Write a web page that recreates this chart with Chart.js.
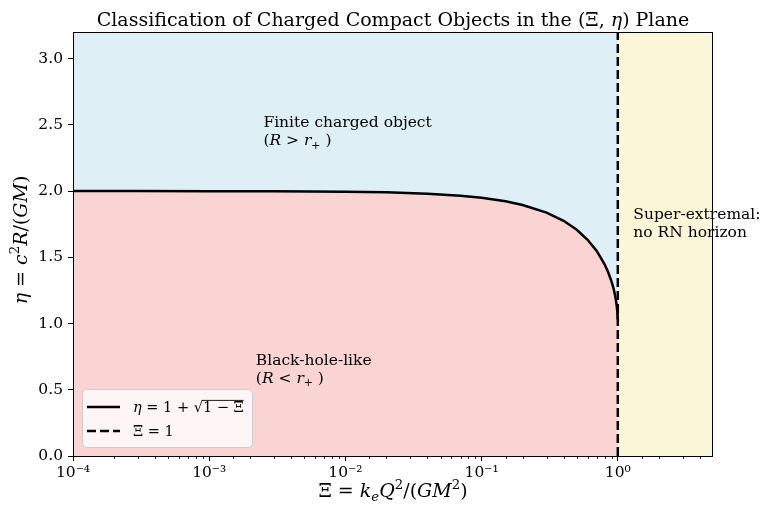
<!DOCTYPE html>
<html><head><meta charset="utf-8">
<script src="https://cdn.jsdelivr.net/npm/chart.js@4.4.0/dist/chart.umd.min.js"></script>
<style>html,body{margin:0;padding:0;background:#fff;}#wrap{width:766px;height:508px;}</style>
</head><body><div id="wrap"><canvas id="c" width="766" height="508"></canvas></div>
<script>
// ---- data ----
const xiValues  = [1e-4, 3e-4, 1e-3, 3e-3, 0.01, 0.02, 0.04, 0.07, 0.1, 0.15, 0.2, 0.3, 0.4, 0.5, 0.6, 0.7, 0.8, 0.85, 0.9, 0.93, 0.95, 0.97, 0.98, 0.99, 0.995, 0.998, 0.999];
const etaValues = [2.0, 2.0, 1.999, 1.998, 1.995, 1.990, 1.980, 1.964, 1.949, 1.922, 1.894, 1.837, 1.775, 1.707, 1.632, 1.548, 1.447, 1.387, 1.316, 1.265, 1.224, 1.173, 1.141, 1.100, 1.071, 1.045, 1.032];
const boundaryXi = [1, 1];
const boundaryEta = [0, 3.2];
const finiteRegionXi = [1e-4, 1];
const superRegionXi = [1, 5];
const regionTopEta = 3.2;
const xRange = [1e-4, 5];
const yRange = [0, 3.2];
const xTickDecades = [1e-4, 1e-3, 1e-2, 1e-1, 1];
const xTickLabels = ['10⁻⁴', '10⁻³', '10⁻²', '10⁻¹', '10⁰'];
const yTickStep = 0.5;
const seriesLabels = ['η = 1 + √1 − Ξ', 'Ξ = 1'];

const FONT = '"DejaVu Serif", "Liberation Serif", serif';
const RED = '#fad3d3', BLUE = '#deeff5', YELLOW = '#faf6d7';
const GRID = 'rgba(176,176,176,0.35)';

function isDecade(v){ const l = Math.log10(v); return Math.abs(l - Math.round(l)) < 1e-9; }

function segFont(s, size){
  const sz = (s.sub || s.sup) ? size*0.7 : size;
  return (s.it ? 'italic ' : '') + sz + 'px ' + FONT;
}
function drawRich(ctx, segs, x, y, size, align){
  let total = 0; const ws = [];
  segs.forEach(s => { ctx.font = segFont(s, size); const w = ctx.measureText(s.t).width; ws.push(w); total += w; });
  let cx = align === 'center' ? x - total/2 : (align === 'right' ? x - total : x);
  ctx.textAlign = 'left'; ctx.textBaseline = 'alphabetic';
  segs.forEach((s, i) => {
    ctx.font = segFont(s, size);
    const dy = s.sub ? size*0.22 : (s.sup ? -size*0.4 : 0);
    ctx.fillText(s.t, cx, y + dy);
    if (s.over){
      ctx.save(); ctx.lineWidth = 0.9; ctx.strokeStyle = ctx.fillStyle;
      ctx.beginPath(); ctx.moveTo(cx - 1, y - size*0.80); ctx.lineTo(cx + ws[i], y - size*0.80); ctx.stroke(); ctx.restore();
    }
    cx += ws[i];
  });
  return total;
}

const decor = {
  id: 'decor',
  afterDraw(chart){
    const ctx = chart.ctx, a = chart.chartArea;
    const xs = chart.scales.x, ys = chart.scales.y;
    ctx.save();
    // spines
    ctx.strokeStyle = '#000'; ctx.lineWidth = 1;
    ctx.strokeRect(a.left + 0.5, a.top + 0.5, a.right - a.left - 1, a.bottom - a.top);
    // minor ticks on log axis
    ctx.lineWidth = 0.8;
    xs.ticks.forEach(t => {
      if (isDecade(t.value)) return;
      const px = Math.round(xs.getPixelForValue(t.value)) + 0.5;
      if (px < a.left || px > a.right) return;
      ctx.beginPath(); ctx.moveTo(px, a.bottom); ctx.lineTo(px, a.bottom + 3); ctx.stroke();
    });
    ctx.fillStyle = '#000';
    // title
    drawRich(ctx, [{t:'Classification of Charged Compact Objects in the (Ξ, '},{t:'η', it:true},{t:') Plane'}],
      (a.left + a.right)/2, 26, 19, 'center');
    // x axis title
    drawRich(ctx, [{t:'Ξ = '},{t:'k', it:true},{t:'e', it:true, sub:true},{t:'Q', it:true},{t:'2', sup:true},{t:'/('},{t:'GM', it:true},{t:'2', sup:true},{t:')'}],
      (a.left + a.right)/2, 497, 19, 'center');
    // y axis title
    ctx.save(); ctx.translate(27, (a.top + a.bottom)/2 - 4); ctx.rotate(-Math.PI/2);
    drawRich(ctx, [{t:'η', it:true},{t:' = '},{t:'c', it:true},{t:'2', sup:true},{t:'R', it:true},{t:'/('},{t:'GM', it:true},{t:')'}], 0, 0, 19, 'center');
    ctx.restore();
    // annotations (anchored in data coordinates)
    const AS = 15.5, LS = 18;
    let px = xs.getPixelForValue(2.5e-3), py = ys.getPixelForValue(2.48);
    drawRich(ctx, [{t:'Finite charged object'}], px, py, AS, 'left');
    drawRich(ctx, [{t:'('},{t:'R', it:true},{t:' > '},{t:'r', it:true},{t:'+', sub:true},{t:' )'}], px, py + LS, AS, 'left');
    px = xs.getPixelForValue(2.2e-3); py = ys.getPixelForValue(0.687);
    drawRich(ctx, [{t:'Black-hole-like'}], px, py, AS, 'left');
    drawRich(ctx, [{t:'('},{t:'R', it:true},{t:' < '},{t:'r', it:true},{t:'+', sub:true},{t:' )'}], px, py + LS, AS, 'left');
    px = xs.getPixelForValue(1.3); py = ys.getPixelForValue(1.786);
    drawRich(ctx, [{t:'Super-extremal:'}], px, py, AS, 'left');
    drawRich(ctx, [{t:'no RN horizon'}], px, py + LS, AS, 'left');
    // legend
    const lx = a.left + 9, ly = a.bottom - 67, lw = 170, lh = 58;
    ctx.beginPath();
    ctx.roundRect(lx + 0.5, ly + 0.5, lw, lh, 4);
    ctx.fillStyle = 'rgba(255,255,255,0.8)'; ctx.fill();
    ctx.strokeStyle = '#cccccc'; ctx.lineWidth = 1; ctx.stroke();
    const ds = chart.data.datasets;
    ctx.strokeStyle = '#000'; ctx.lineWidth = 2.5;
    ctx.beginPath(); ctx.moveTo(lx + 5, ly + 18); ctx.lineTo(lx + 38, ly + 18); ctx.stroke();
    ctx.setLineDash(ds[1].borderDash);
    ctx.beginPath(); ctx.moveTo(lx + 5, ly + 42); ctx.lineTo(lx + 38, ly + 42); ctx.stroke();
    ctx.setLineDash([]);
    ctx.fillStyle = '#000';
    drawRich(ctx, [{t:'η', it:true},{t:' = 1 + √'},{t:'1 − Ξ', over:true}], lx + 51, ly + 23, 14.5, 'left');
    drawRich(ctx, [{t:'Ξ = 1'}], lx + 51, ly + 47, 14.5, 'left');
    ctx.restore();
  }
};

const curve = xiValues.map((x, i) => ({x, y: etaValues[i]}));
new Chart(document.getElementById('c'), {
  type: 'line',
  data: {
    datasets: [
      { label: seriesLabels[0], data: curve, borderColor: '#000', borderWidth: 2.5, pointRadius: 0, fill: 'origin', backgroundColor: RED, tension: 0, order: 0 },
      { label: seriesLabels[1], data: boundaryXi.map((x, i) => ({x, y: boundaryEta[i]})), borderColor: '#000', borderWidth: 2.5, borderDash: [9, 4], pointRadius: 0, fill: false, order: -1 },
      { label: 'finite', data: finiteRegionXi.map(x => ({x, y: regionTopEta})), borderWidth: 0, borderColor: 'rgba(0,0,0,0)', pointRadius: 0, fill: 'origin', backgroundColor: BLUE, order: 1 },
      { label: 'super', data: superRegionXi.map(x => ({x, y: regionTopEta})), borderWidth: 0, borderColor: 'rgba(0,0,0,0)', pointRadius: 0, fill: 'origin', backgroundColor: YELLOW, order: 2 }
    ]
  },
  options: {
    responsive: false, devicePixelRatio: 1, animation: false,
    layout: { padding: { top: 32, right: 53, left: 0, bottom: 0 } },
    plugins: { legend: { display: false }, tooltip: { enabled: false }, title: { display: false } },
    scales: {
      x: {
        type: 'logarithmic', min: xRange[0], max: xRange[1], z: 1,
        afterFit(s){ s.height = 52; },
        border: { display: false },
        grid: {
          color: c => (c.tick && isDecade(c.tick.value)) ? GRID : 'rgba(0,0,0,0)',
          tickColor: c => (c.tick && isDecade(c.tick.value)) ? '#000' : 'rgba(0,0,0,0)',
          lineWidth: 0.8, tickLength: 5, tickWidth: 1
        },
        ticks: {
          autoSkip: false, maxRotation: 0, color: '#000', padding: 3,
          font: { family: FONT, size: 15.5 },
          callback: v => { const i = xTickDecades.findIndex(d => Math.abs(d - v) / d < 1e-9); return i >= 0 ? xTickLabels[i] : ''; }
        }
      },
      y: {
        type: 'linear', min: yRange[0], max: yRange[1], z: 1,
        afterFit(s){ s.width = 73; },
        border: { display: false },
        grid: { color: GRID, tickColor: '#000', lineWidth: 0.8, tickLength: 5, tickWidth: 1 },
        ticks: { stepSize: yTickStep, includeBounds: false, color: '#000', padding: 5, font: { family: FONT, size: 15.5 }, callback: v => v.toFixed(1) }
      }
    }
  },
  plugins: [decor]
});
</script></body></html>
